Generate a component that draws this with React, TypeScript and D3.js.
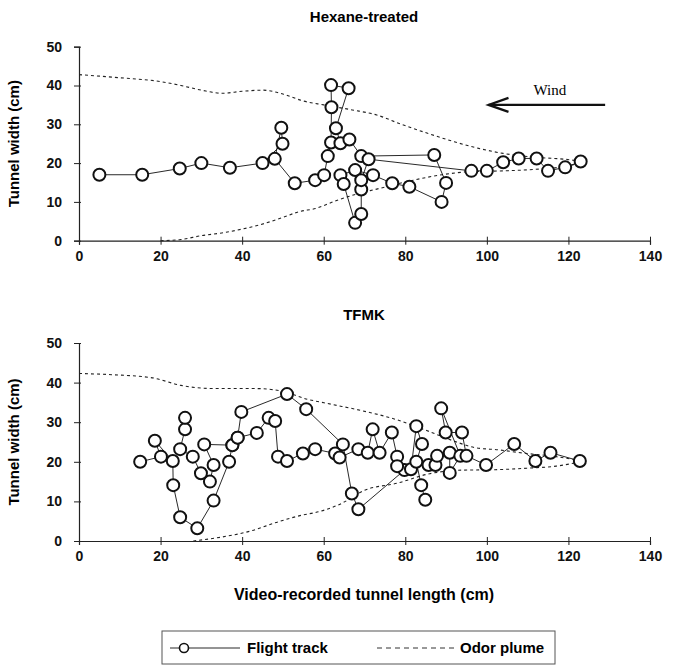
import React, { useEffect, useRef } from 'react';
import * as d3 from 'd3';

type Pt = [number, number] | null;

const xTicks = [0, 20, 40, 60, 80, 100, 120, 140];
const yTicks = [0, 10, 20, 30, 40, 50];

// Hexane-treated panel
const hexTrack: Pt[] = [
  [5, 17], [15.5, 17], [24.7, 18.6], [30, 20], [37, 18.8], [45, 20],
  [49.9, 25], [49.6, 29.1], [48, 21.1], [52.9, 14.8], [57.9, 15.6], [60.1, 16.9],
  [61, 21.8], [61.8, 25.3], [61.9, 34.4], [61.8, 40.1], [66.1, 39.3], [63, 29],
  [64.1, 25.1], [66.3, 26.1], [69.2, 21.8], [87.1, 22.1], [90, 14.9], [88.9, 10],
  [81, 13.9], [76.8, 14.8], [72.1, 16.9], [67.7, 18.2], [64.1, 16.9], [64.9, 14.6],
  [67.7, 4.6], [69.2, 6.9], [69.2, 13.2], [69.2, 15.6], [71, 21], [96.2, 18],
  [100, 18], [104, 20.2], [107.8, 21.2], [112.2, 21.2], [115, 18], [119.2, 18.9], [123, 20.4],
];
const hexPlumeUpperX = [0, 10, 20, 25, 30, 35, 40, 45, 50, 55, 60, 67, 73, 79, 86, 92, 98, 104, 112, 119, 123];
const hexPlumeUpperY = [42.8, 42, 41, 40, 38.8, 38, 38.5, 38.8, 37.8, 36, 35, 33.7, 32.4, 30, 27.5, 25.5, 23.8, 22.5, 21.5, 21, 20.5];
const hexPlumeLowerX = [20, 25, 30, 35, 40, 44, 50, 54, 58, 63, 68, 73, 82, 89, 96, 104, 112, 119, 123];
const hexPlumeLowerY = [0, 0.3, 1.3, 2, 3, 4, 6, 7.5, 8.3, 10.3, 12, 13.3, 15.6, 17, 17.8, 18, 18.4, 19.1, 20];

// TFMK panel
const tfmkTrack: Pt[] = [
  [15, 20], [20.1, 21.3], [18.6, 25.3], [23, 20.2], [23.1, 14.1], [24.8, 6], [29, 3.2],
  [33, 10.2], [36.8, 20], [37.6, 24.2], [30.7, 24.4], [33, 19.2], [32.1, 15], [29.9, 17.1],
  [27.9, 21.3], [24.8, 23.2], [26, 28.2], [26, 31.1],
  null,
  [37.6, 24.2], [38.9, 26.1], [39.8, 32.6], [51, 37.1], [55.7, 33.3], [64.7, 24.4],
  [66.9, 12], [68.5, 8], [79.8, 17.9], [81.4, 18.1], [82.7, 29], [84.1, 24.5], [82.7, 20],
  [83.9, 14.1], [84.9, 10.4],
  null,
  [38.9, 26.1], [43.6, 27.3], [46.5, 31.1], [48.1, 30.3], [48.8, 21.3], [51, 20.2],
  [54.9, 22.1], [57.9, 23.2], [62.8, 22.1], [63.9, 21.1], [68.5, 23.2], [70.8, 22.3],
  [72, 28.2], [73.7, 22.3], [76.7, 27.4], [78, 21.3], [78, 18.9], [85.7, 19.2], [87.4, 19.2],
  [87.8, 21.5], [90.9, 22.3], [90.9, 17.2], [93.5, 21.5], [88.8, 33.5], [89.9, 27.4],
  [93.9, 27.4], [95, 21.5], [99.8, 19.2], [106.7, 24.5], [111.9, 20.2], [115.6, 22.3], [122.8, 20.2],
];
const tfmkPlumeUpperX = [0, 8, 18, 25, 33, 43, 49, 56, 62, 69, 78, 86, 92, 97, 103, 109, 117, 123];
const tfmkPlumeUpperY = [42.3, 42, 41.2, 39.3, 38.5, 38.5, 38, 35.8, 34.5, 33, 30.6, 27.6, 25.2, 23.6, 23, 22.2, 21.3, 20.3];
const tfmkPlumeLowerX = [28, 35, 42, 49, 55, 58, 64, 70, 78, 86, 94, 102, 110, 117, 123];
const tfmkPlumeLowerY = [0, 1, 2.5, 4.9, 6.6, 7.2, 9.3, 12.8, 14.6, 17, 17.9, 18, 18.4, 18.9, 20];

const windArrow = { x1: 129, x2: 100.4, y: 35 };

const App = () => {
  const ref = useRef<SVGSVGElement>(null);

  useEffect(() => {
    const svg = d3.select(ref.current);
    svg.selectAll('*').remove();

    const font = "'Liberation Sans', Arial, sans-serif";
    const x = d3.scaleLinear().domain([0, 140]).range([79, 650]);

    const panels = [
      { title: 'Hexane-treated', titleY: 22, y0: 240.7, y50: 46.7, track: hexTrack,
        ux: hexPlumeUpperX, uy: hexPlumeUpperY, lx: hexPlumeLowerX, ly: hexPlumeLowerY },
      { title: 'TFMK', titleY: 320, y0: 541, y50: 343, track: tfmkTrack,
        ux: tfmkPlumeUpperX, uy: tfmkPlumeUpperY, lx: tfmkPlumeLowerX, ly: tfmkPlumeLowerY },
    ];

    panels.forEach((p, pi) => {
      const y = d3.scaleLinear().domain([0, 50]).range([p.y0, p.y50]);
      const g = svg.append('g');

      g.append('text')
        .attr('x', 364).attr('y', p.titleY)
        .attr('text-anchor', 'middle')
        .style('font', `bold 15px ${font}`)
        .text(p.title);

      // axes
      const xAxis = g.append('g')
        .attr('transform', `translate(0,${p.y0})`)
        .call(d3.axisBottom(x).tickValues(xTicks).tickSizeOuter(0).tickSize(4).tickPadding(6));
      xAxis.selectAll('.tick line').attr('y1', -4).attr('y2', 4);
      const yAxis = g.append('g')
        .attr('transform', `translate(${x(0)},0)`)
        .call(d3.axisLeft(y).tickValues(yTicks).tickSizeOuter(0).tickSize(5).tickPadding(12));
      yAxis.selectAll('.tick line').attr('x1', 2);
      [xAxis, yAxis].forEach(a => {
        a.select('.domain').attr('stroke', '#222').attr('stroke-width', 1.2);
        a.selectAll('.tick line').attr('stroke', '#222');
        a.selectAll('.tick text')
          .attr('fill', '#111')
          .style('font', `bold 14px ${font}`);
      });

      g.append('text')
        .attr('transform', `translate(19,${(p.y0 + p.y50) / 2}) rotate(-90)`)
        .attr('text-anchor', 'middle')
        .style('font', `bold 15px ${font}`)
        .text('Tunnel width (cm)');

      // odor plume
      const plume = d3.line<[number, number]>()
        .x(d => x(d[0])).y(d => y(d[1]))
        .curve(d3.curveMonotoneX);
      [[p.ux, p.uy], [p.lx, p.ly]].forEach(([xs, ys]) => {
        g.append('path')
          .datum(xs.map((v, i) => [v, ys[i]] as [number, number]))
          .attr('d', plume)
          .attr('fill', 'none')
          .attr('stroke', '#222')
          .attr('stroke-width', 1.1)
          .attr('stroke-dasharray', '3,3');
      });

      // flight track
      const track = d3.line<Pt>()
        .defined(d => d !== null)
        .x(d => x(d![0])).y(d => y(d![1]));
      g.append('path')
        .datum(p.track)
        .attr('d', track)
        .attr('fill', 'none')
        .attr('stroke', '#111')
        .attr('stroke-width', 0.9);
      g.selectAll('circle.pt')
        .data(p.track.filter(d => d !== null) as [number, number][])
        .enter().append('circle')
        .attr('class', 'pt')
        .attr('cx', d => x(d[0]))
        .attr('cy', d => y(d[1]))
        .attr('r', 6)
        .attr('fill', '#fff')
        .attr('stroke', '#111')
        .attr('stroke-width', 2);

      if (pi === 0) {
        const ax1 = x(windArrow.x1), ax2 = x(windArrow.x2), ay = y(windArrow.y);
        g.append('text')
          .attr('x', (ax1 + ax2) / 2 + 3).attr('y', ay - 10)
          .attr('text-anchor', 'middle')
          .style('font', "15px 'Liberation Serif', 'Times New Roman', serif")
          .text('Wind');
        g.append('line')
          .attr('x1', ax1).attr('x2', ax2).attr('y1', ay).attr('y2', ay)
          .attr('stroke', '#111').attr('stroke-width', 2.2);
        g.append('path')
          .attr('d', `M${ax2 + 20},${ay - 7}L${ax2},${ay}L${ax2 + 20},${ay + 7}`)
          .attr('fill', 'none').attr('stroke', '#111').attr('stroke-width', 2.2);
      }
    });

    svg.append('text')
      .attr('x', 364).attr('y', 600)
      .attr('text-anchor', 'middle')
      .style('font', `bold 16px ${font}`)
      .text('Video-recorded tunnel length (cm)');

    // legend
    const lg = svg.append('g');
    lg.append('rect')
      .attr('x', 162).attr('y', 631).attr('width', 393).attr('height', 33)
      .attr('fill', '#fff').attr('stroke', '#555').attr('stroke-width', 1);
    lg.append('line')
      .attr('x1', 170).attr('x2', 240).attr('y1', 648).attr('y2', 648)
      .attr('stroke', '#111').attr('stroke-width', 0.9);
    lg.append('circle')
      .attr('cx', 184).attr('cy', 648).attr('r', 4.5)
      .attr('fill', '#fff').attr('stroke', '#111').attr('stroke-width', 1.6);
    lg.append('text')
      .attr('x', 247).attr('y', 653)
      .style('font', `bold 15px ${font}`)
      .text('Flight track');
    lg.append('line')
      .attr('x1', 377).attr('x2', 457).attr('y1', 648).attr('y2', 648)
      .attr('stroke', '#333').attr('stroke-width', 1).attr('stroke-dasharray', '5,4');
    lg.append('text')
      .attr('x', 460).attr('y', 653)
      .style('font', `bold 15px ${font}`)
      .text('Odor plume');
  }, []);

  return (
    <svg ref={ref} width={678} height={666}
      style={{ position: 'absolute', left: 0, top: 0, background: '#fff' }} />
  );
};

export default App;
